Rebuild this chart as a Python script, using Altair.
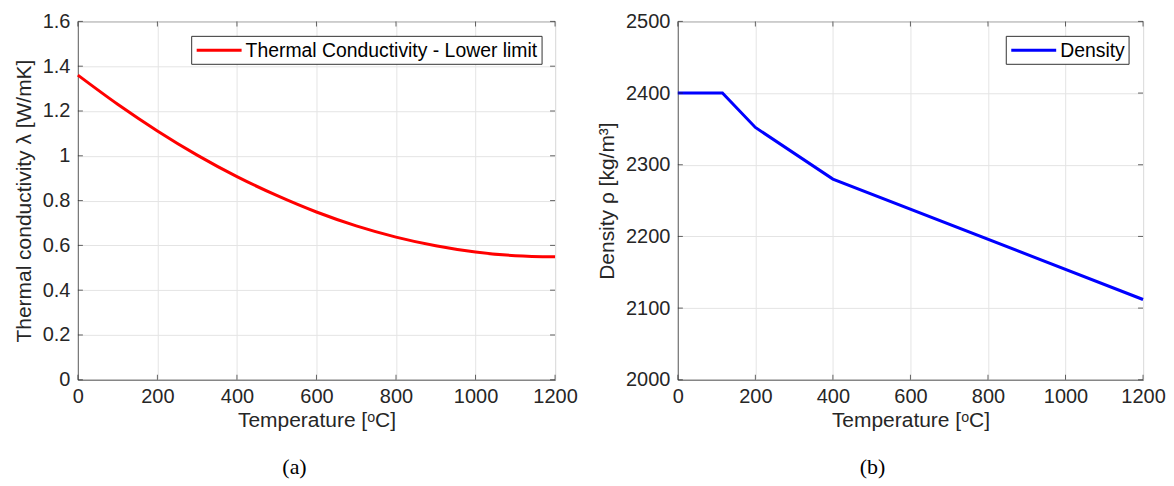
import altair as alt
import pandas as pd

# ---- data ----
temp_k = [0, 100, 200, 300, 400, 500, 600, 700, 800, 900, 1000, 1100, 1200]
conductivity = [1.36, 1.230, 1.111, 1.003, 0.907, 0.823, 0.749, 0.687, 0.637, 0.598, 0.570, 0.554, 0.549]

temp_d = [0, 115, 200, 400, 1200]
density = [2400, 2400, 2352, 2280, 2112]

x_ticks = [0, 200, 400, 600, 800, 1000, 1200]
k_ticks = [0, 0.2, 0.4, 0.6, 0.8, 1.0, 1.2, 1.4, 1.6]
d_ticks = [2000, 2100, 2200, 2300, 2400, 2500]

k_name = "Thermal Conductivity - Lower limit"
d_name = "Density"

FONT = "Liberation Sans"
TXT = "#262626"
FRAME = "#6e6e6e"
GRID = "#e4e4e4"
H = 359
TL = 5  # inner tick length

df_k = pd.DataFrame({"T": temp_k, "v": conductivity})
df_d = pd.DataFrame({"T": temp_d, "v": density})
df_xt = pd.DataFrame({"T": x_ticks})
df_kt = pd.DataFrame({"v": k_ticks})
df_dt = pd.DataFrame({"v": d_ticks})


def x_axis():
    return alt.Axis(values=x_ticks, format="d", title="Temperature [ᵒC]",
                    labelPadding=7, titlePadding=3, ticks=False, labelFlush=False)


def panel(df, yt_df, w, color, interp, ydom, yticks, yfmt, ytitle,
          name, lx, lw, caption, cdx):
    xs = alt.X("T:Q", scale=alt.Scale(domain=[0, 1200], nice=False), axis=x_axis())
    ys = alt.Y("v:Q", scale=alt.Scale(domain=ydom, nice=False),
               axis=alt.Axis(values=yticks, format=yfmt, title=ytitle,
                             labelPadding=8, titlePadding=8, ticks=False,
                             labelFlush=False))
    line = alt.Chart(df).mark_line(strokeWidth=3, color=color,
                                   interpolate=interp).encode(x=xs, y=ys)
    # inward ticks on all four sides (MATLAB box style)
    tb = alt.Chart(df_xt).mark_tick(color=TXT, size=TL, thickness=1)
    xt_bot = tb.encode(x="T:Q", y=alt.value(H - TL / 2))
    xt_top = tb.encode(x="T:Q", y=alt.value(TL / 2))
    lr = alt.Chart(yt_df).mark_tick(color=TXT, size=TL, thickness=1)
    yt_l = lr.encode(y="v:Q", x=alt.value(TL / 2))
    yt_r = lr.encode(y="v:Q", x=alt.value(w - TL / 2))
    # legend box
    base = alt.Chart(pd.DataFrame({"s": [name]}))
    box = base.mark_rect(fill="white", stroke="#333333", strokeWidth=1).encode(
        x=alt.value(lx), x2=alt.value(lx + lw), y=alt.value(15), y2=alt.value(43))
    sym = base.mark_rule(color=color, strokeWidth=3).encode(
        x=alt.value(lx + 5), x2=alt.value(lx + 50), y=alt.value(29))
    lab = base.mark_text(align="left", baseline="middle", font=FONT,
                         fontSize=19.4, color="#000000").encode(
        x=alt.value(lx + 54), y=alt.value(29.5), text="s:N")
    return alt.layer(line, xt_bot, xt_top, yt_l, yt_r, box, sym, lab).properties(
        width=w, height=H,
        title=alt.TitleParams(caption, orient="bottom", font="Liberation Serif",
                              fontSize=22, fontWeight="normal", color="#000000",
                              offset=26, dx=cdx, anchor="middle"))


left = panel(df_k, df_kt, 478, "#ff0000", "monotone", [0, 1.6], k_ticks, "~g",
             "Thermal conductivity λ [W/mK]", k_name, 114, 351, "(a)", -22)
right = panel(df_d, df_dt, 466, "#0000ff", "linear", [2000, 2500], d_ticks, "d",
              "Density ρ [kg/m³]", d_name, 329, 123, "(b)", -38)

chart = alt.hconcat(left, right, spacing=18).properties(
    padding={"left": 4, "top": 2, "right": 0, "bottom": 0}
).configure(background="white").configure_view(
    stroke=FRAME, strokeWidth=1
).configure_axis(
    labelFont=FONT, titleFont=FONT, labelFontSize=20, titleFontSize=21,
    labelColor=TXT, titleColor=TXT, titleFontWeight="normal",
    domainColor=FRAME, gridColor=GRID, grid=True,
)

chart.save("out.html", embed_options={"renderer": "svg", "actions": False})
